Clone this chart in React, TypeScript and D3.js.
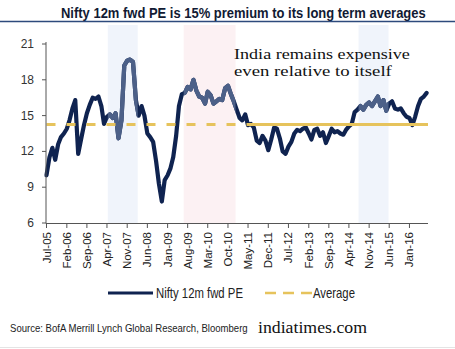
import React, { useLayoutEffect, useRef, useState } from 'react';
import * as d3 from 'd3';

// Monthly Nifty 12m forward PE, Jul-05 .. Jul-16
const startYear = 2005;
const startMonth = 6; // July (0-based)
const peValues = [
  10.0, 11.5, 12.3, 11.3, 12.6, 13.2, 13.5, 13.9, 14.6, 15.6, 16.3, 11.8,
  13.0, 14.2, 15.2, 15.9, 16.5, 16.4, 16.6, 15.8, 14.3, 14.9, 15.1, 14.8,
  15.2, 13.1, 14.6, 19.2, 19.6, 19.7, 19.5, 16.3, 15.0, 15.8, 15.0, 13.5,
  13.2, 12.8, 11.2, 9.3, 7.8, 9.6, 10.0, 10.6, 11.5, 13.3, 15.8, 16.8,
  16.9, 17.4, 17.2, 18.0, 17.1, 16.6, 16.5, 16.0, 17.0, 16.7, 16.0, 16.2,
  16.4, 16.3, 17.3, 17.5, 16.8, 16.2, 15.5, 14.8, 14.6, 15.1, 14.2, 14.3,
  14.0, 12.9, 12.7, 13.3, 12.9, 12.1, 13.0, 14.0, 13.9, 13.1, 12.0, 11.8,
  12.4, 12.8, 13.5, 13.8, 13.7, 13.9, 14.0, 13.5, 13.0, 13.8, 13.9, 13.3,
  13.6, 12.7, 13.3, 13.9, 13.6, 13.7, 13.5, 13.4, 13.8, 14.1, 14.3, 15.3,
  15.5, 15.8, 15.5, 15.9, 16.1, 15.8, 16.2, 16.6, 15.8, 16.3, 15.4, 16.0,
  16.2, 15.6, 15.5, 15.6, 15.2, 14.9, 14.8, 14.2, 14.9, 15.8, 16.4, 16.6,
  16.9,
];
const averagePE = 14.25;
const yTicks = [6, 9, 12, 15, 18, 21];
const xTickLabels = [
  'Jul-05', 'Feb-06', 'Sep-06', 'Apr-07', 'Nov-07', 'Jun-08', 'Jan-09', 'Aug-09',
  'Mar-10', 'Oct-10', 'May-11', 'Dec-11', 'Jul-12', 'Feb-13', 'Sep-13', 'Apr-14',
  'Nov-14', 'Jun-15', 'Jan-16',
];
const bandStarts = ['2007-04-10', '2009-06-20', '2014-07-12'];
const bandEnds = ['2008-02-20', '2010-12-20', '2015-05-25'];
const bandKinds = ['blue', 'pink', 'blue'];

const title = 'Nifty 12m fwd PE is 15% premium to its long term averages';
const seriesName = 'Nifty 12m fwd PE';
const avgName = 'Average';
const sourceText = 'Source: BofA Merrill Lynch Global Research, Bloomberg';
const watermark = 'indiatimes.com';
const noteLines = ['India remains expensive', 'even relative to itself'];

type FitProps = {
  x: number;
  y: number;
  width: number;
  children: string;
  [k: string]: any;
};

// Text horizontally scaled so that its rendered width equals `width`.
function FitText({ x, y, width, children, ...rest }: FitProps) {
  const ref = useRef<SVGTextElement>(null);
  const [k, setK] = useState(1);
  useLayoutEffect(() => {
    if (ref.current) {
      const w = ref.current.getComputedTextLength();
      if (w > 0) setK(width / w);
    }
  }, [width, children]);
  return (
    <text ref={ref} x={0} y={0} transform={`translate(${x},${y}) scale(${k},1)`} {...rest}>
      {children}
    </text>
  );
}

export default function App() {
  const W = 455;
  const H = 349;
  const parseTick = d3.timeParse('%b-%y');
  const parseDay = d3.timeParse('%Y-%m-%d');
  const x = d3
    .scaleTime()
    .domain([new Date(2005, 6, 1), new Date(2016, 6, 15)])
    .range([46.5, 428]);
  const y = d3.scaleLinear().domain([6, 21]).range([223, 44]);

  const data = peValues.map((v, i) => ({ date: new Date(startYear, startMonth + i, 1), v }));
  const line = d3
    .line<{ date: Date; v: number }>()
    .x((d) => x(d.date))
    .y((d) => y(d.v));
  const pathD = line(data) || '';

  const bandColor: Record<string, string> = { blue: '#f0f4fb', pink: '#fcf1f3' };
  const navy = '#0f2350';
  const lightNavy = '#4c6088';
  const gold = '#e6c35c';
  const axisColor = '#555';
  const x0 = x.range()[0];
  const x1 = x.range()[1];
  const dashEnd = 250;
  const avgY = y(averagePE);
  const serif = "'Liberation Serif', 'DejaVu Serif', serif";

  const bands = bandStarts.map((s, i) => {
    const a = x(parseDay(s) as Date);
    const b = x(parseDay(bandEnds[i]) as Date);
    return { key: s, a, b, kind: bandKinds[i] };
  });

  return (
    <svg
      width={W}
      height={H}
      style={{ position: 'absolute', left: 0, top: 0, background: '#fff' }}
      fontFamily="'Liberation Sans', Arial, sans-serif"
    >
      <defs>
        <clipPath id="bandClip">
          {bands.map((b) => (
            <rect key={b.key} x={b.a} y={20} width={b.b - b.a} height={210} />
          ))}
        </clipPath>
      </defs>
      <rect x={0} y={0} width={W} height={H} fill="#fff" />
      {/* Title */}
      <FitText x={61} y={17.5} width={365} fontSize={15} fontWeight="bold" fill="#111a33">
        {title}
      </FitText>
      <line x1={0} x2={W} y1={21.5} y2={21.5} stroke="#2d4a7c" strokeWidth={1.5} />

      {/* Shaded periods */}
      {bands.map((b) => (
        <rect
          key={b.key}
          x={b.a}
          y={25}
          width={b.b - b.a}
          height={223 - 25}
          fill={bandColor[b.kind]}
        />
      ))}

      {/* Series line */}
      <path
        d={pathD}
        fill="none"
        stroke={navy}
        strokeWidth={4.2}
        strokeLinejoin="round"
        strokeLinecap="round"
      />
      <path
        d={pathD}
        fill="none"
        stroke={lightNavy}
        strokeWidth={4.2}
        strokeLinejoin="round"
        strokeLinecap="round"
        clipPath="url(#bandClip)"
      />

      {/* Average line */}
      <line
        x1={x0}
        x2={dashEnd}
        y1={avgY}
        y2={avgY}
        stroke={gold}
        strokeWidth={3}
        strokeDasharray="9,11"
      />
      <line x1={dashEnd} x2={x1} y1={avgY} y2={avgY} stroke={gold} strokeWidth={3} />

      {/* Y axis */}
      <line x1={46} x2={46} y1={42} y2={223.5} stroke={axisColor} strokeWidth={1} />
      {yTicks.map((t) => (
        <g key={t}>
          <line x1={42} x2={46} y1={y(t)} y2={y(t)} stroke={axisColor} strokeWidth={1} />
          <text
            x={34}
            y={y(t)}
            textAnchor="end"
            dominantBaseline="central"
            fontSize={12}
            fill="#333"
          >
            {t}
          </text>
        </g>
      ))}

      {/* X axis */}
      <line x1={46} x2={x1} y1={223.5} y2={223.5} stroke={axisColor} strokeWidth={1} />
      {xTickLabels.map((lab) => {
        const px = x(parseTick(lab) as Date);
        return (
          <g key={lab}>
            <line x1={px} x2={px} y1={223.5} y2={228} stroke={axisColor} strokeWidth={1} />
            <text
              transform={`translate(${px},232) rotate(-90)`}
              textAnchor="end"
              dominantBaseline="central"
              fontSize={11.5}
              fill="#222"
            >
              {lab}
            </text>
          </g>
        );
      })}

      {/* Annotation */}
      {noteLines.map((t, i) => (
        <FitText
          key={t}
          x={234}
          y={58.5 + i * 17}
          width={i === 0 ? 176 : 158}
          fontFamily={serif}
          fontSize={15.5}
          fill="#111"
        >
          {t}
        </FitText>
      ))}

      {/* Legend */}
      <line x1={108} x2={153} y1={293} y2={293} stroke={navy} strokeWidth={3} />
      <FitText x={156} y={293} width={87} dominantBaseline="central" fontSize={14} fill="#222">
        {seriesName}
      </FitText>
      <line
        x1={265}
        x2={312}
        y1={293}
        y2={293}
        stroke={gold}
        strokeWidth={2.5}
        strokeDasharray="11,7"
      />
      <FitText x={313} y={293} width={42} dominantBaseline="central" fontSize={14} fill="#222">
        {avgName}
      </FitText>

      {/* Source & watermark */}
      <FitText x={10} y={332} width={238} fontSize={11} fill="#222">
        {sourceText}
      </FitText>
      <FitText x={258} y={333} width={109} fontFamily={serif} fontSize={17} fill="#111">
        {watermark}
      </FitText>
      <line x1={0} x2={W} y1={347.5} y2={347.5} stroke="#e4e4e4" strokeWidth={1} />
    </svg>
  );
}
